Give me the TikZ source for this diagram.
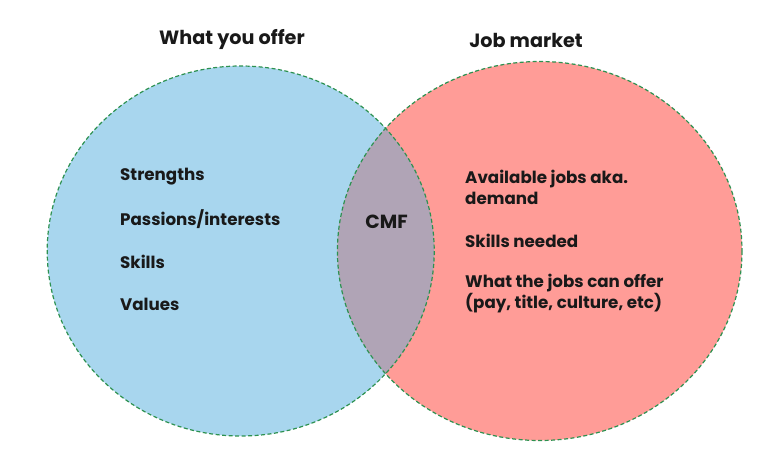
\documentclass[tikz,border=0pt]{standalone}
\usepackage{fontspec}
\setmainfont{Poppins}
\definecolor{bluefill}{RGB}{168,214,238}
\definecolor{pinkfill}{RGB}{255,156,151}
\definecolor{lensfill}{RGB}{176,164,182}
\definecolor{greendash}{RGB}{45,145,80}
\tikzset{
  border/.style={draw=greendash, line width=1.2pt, dash pattern=on 4pt off 2.5pt},
  itemtext/.style={anchor=west, inner sep=0pt, align=left, font=\bfseries\fontsize{16.7}{21}\selectfont, text=black!90},
  titletext/.style={anchor=center, inner sep=0pt, font=\bfseries\fontsize{19.2}{22}\selectfont, text=black!90}
}
\begin{document}
\begin{tikzpicture}[x=1pt,y=-1pt]
\useasboundingbox (0,0) rectangle (775,466);
% fills
\fill[bluefill] (240.7,251) ellipse [x radius=193.5, y radius=185];
\fill[pinkfill] (539.7,251) ellipse [x radius=202.3, y radius=189.5];
\begin{scope}
  \clip (240.7,251) ellipse [x radius=193.5, y radius=185];
  \fill[lensfill] (539.7,251) ellipse [x radius=202.3, y radius=189.5];
\end{scope}
% borders
\draw[border] (240.7,251) ellipse [x radius=193.5, y radius=185];
\draw[border] (539.7,251) ellipse [x radius=202.3, y radius=189.5];
% titles
\node[titletext] (t1) at (232,40) {What you offer};
\node[titletext] (t2) at (526,40) {Job market};
% left items
\node[itemtext] (l1) at (120,176.5) {Strengths};
\node[itemtext] (l2) at (120,219) {Passions/interests};
\node[itemtext] (l3) at (120,262) {Skills};
\node[itemtext] (l4) at (120,304.5) {Values};
% centre
\node[titletext, font=\bfseries\fontsize{19}{22}\selectfont] (cmf) at (386.5,221.5) {CMF};
% right items
\node[itemtext] (r1) at (465,187) {Available jobs aka.\\demand};
\node[itemtext] (r2) at (465,241) {Skills needed};
\node[itemtext] (r3) at (465,294) {What the jobs can offer\\(pay, title, culture, etc)};
\end{tikzpicture}
\end{document}
